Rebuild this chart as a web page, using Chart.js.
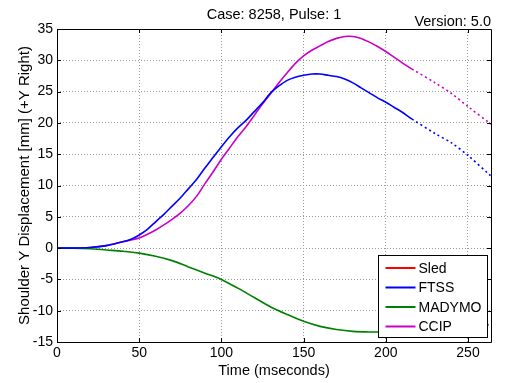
<!DOCTYPE html>
<html><head><meta charset="utf-8">
<script src="https://cdn.jsdelivr.net/npm/chart.js@4/dist/chart.umd.min.js"></script>
<style>html,body{margin:0;padding:0;background:#fff;overflow:hidden}</style>
</head><body>
<canvas id="c" width="505" height="383"></canvas>
<script>
const titleText = 'Case: 8258, Pulse: 1';
const versionText = 'Version: 5.0';
const xTitle = 'Time (mseconds)';
const yTitle = 'Shoulder Y Displacement [mm] (+Y Right)';
const xTicks = [0, 50, 100, 150, 200, 250];
const yTicks = [-15, -10, -5, 0, 5, 10, 15, 20, 25, 30, 35];
const seriesNames = ['Sled', 'FTSS', 'MADYMO', 'CCIP'];

const sledTime = [];
const sledValues = [];

const ftssTime = [0,10,20,30,40,45,50,55,60,65,70,75,80,85,90,95,100,105,110,115,120,125,130,135,140,145,150,155,160,165,170,175,180,185,190,195,200,205,210,216,230,240,250,264];
const ftssValues = [0,0,0.1,0.4,1.0,1.4,2.1,3.0,4.2,5.4,6.7,8.0,9.5,11.0,12.8,14.5,16.2,17.8,19.2,20.4,21.8,23.2,24.8,25.9,26.8,27.3,27.6,27.8,27.8,27.6,27.4,27.0,26.4,25.6,24.8,24.0,23.3,22.5,21.7,20.6,18.3,16.8,14.8,11.5];

const madymoTime = [0,10,20,30,40,50,60,70,80,90,100,110,120,130,140,150,160,170,180,190,200,216,240,264];
const madymoValues = [0,0,-0.1,-0.3,-0.5,-0.8,-1.3,-2.0,-3.0,-4.0,-5.0,-6.4,-7.9,-9.4,-10.6,-11.7,-12.5,-13.0,-13.3,-13.4,-13.4,-13.3,-12.9,-12.2];

const ccipTime = [0,10,20,30,40,45,50,55,60,65,70,75,80,85,90,95,100,105,110,115,120,125,130,135,140,145,150,155,160,165,170,175,180,185,190,195,200,205,210,216,230,240,250,264];
const ccipValues = [0,0,0.1,0.4,1.0,1.3,1.6,2.2,2.9,3.7,4.6,5.6,6.8,8.3,10.3,12.2,14.2,16.0,17.8,19.4,21.2,23.0,24.7,26.4,28.0,29.5,30.7,31.6,32.3,33.0,33.5,33.8,33.8,33.5,32.9,32.2,31.4,30.5,29.6,28.6,26.4,24.7,22.6,19.8];

const dottedFrom = 216;
const FONT = "'Liberation Sans', Arial, sans-serif";

function pts(t, v) { return t.map((x, i) => ({x: x, y: v[i]})); }
function ds(label, t, v, color) {
  return {
    label: label, data: pts(t, v), borderColor: color, backgroundColor: color,
    borderWidth: 1.6, pointRadius: 0, tension: 0.3, fill: false,
    segment: { borderDash: c => (c.p0.parsed.x >= dottedFrom ? [2, 3] : undefined) }
  };
}

const colors = ['#ff0000', '#0000ff', '#008000', '#c800c8'];

const framePlugin = {
  id: 'frame',
  afterDraw(chart) {
    const ctx = chart.ctx, a = chart.chartArea;
    const xs = chart.scales.x, ys = chart.scales.y;
    ctx.save();
    ctx.strokeStyle = '#000'; ctx.lineWidth = 1;
    ctx.beginPath();
    ctx.rect(Math.round(a.left) + 0.5, Math.round(a.top) + 0.5, Math.round(a.right - a.left), Math.round(a.bottom - a.top));
    ctx.stroke();
    const tl = 4;
    ctx.beginPath();
    xTicks.forEach(v => {
      const px = Math.round(xs.getPixelForValue(v)) + 0.5;
      ctx.moveTo(px, a.bottom); ctx.lineTo(px, a.bottom - tl);
      ctx.moveTo(px, a.top); ctx.lineTo(px, a.top + tl);
    });
    yTicks.forEach(v => {
      const py = Math.round(ys.getPixelForValue(v)) + 0.5;
      ctx.moveTo(a.left, py); ctx.lineTo(a.left + tl, py);
      ctx.moveTo(a.right, py); ctx.lineTo(a.right - tl, py);
    });
    ctx.stroke();

    // legend
    const lw = 109, lh = 82;
    const lx = Math.round(a.right - 4 - lw) + 0.5, ly = Math.round(a.bottom - 5 - lh) + 0.5;
    ctx.fillStyle = '#fff';
    ctx.fillRect(lx, ly, lw, lh);
    ctx.strokeStyle = '#000'; ctx.lineWidth = 1;
    ctx.strokeRect(lx, ly, lw, lh);
    ctx.font = '14px ' + FONT;
    ctx.textBaseline = 'middle'; ctx.textAlign = 'left';
    chart.data.datasets.forEach((d, i) => {
      const yy = ly + 12.5 + i * 19.5;
      ctx.strokeStyle = d.borderColor; ctx.lineWidth = 2;
      ctx.beginPath(); ctx.moveTo(lx + 7, yy); ctx.lineTo(lx + 37, yy); ctx.stroke();
      ctx.fillStyle = '#000';
      ctx.fillText(d.label, lx + 40, yy + 1);
    });

    // titles
    ctx.fillStyle = '#000';
    ctx.font = '14.5px ' + FONT;
    ctx.textAlign = 'center'; ctx.textBaseline = 'middle';
    ctx.fillText(titleText, (a.left + a.right) / 2, 15);
    ctx.textAlign = 'right';
    ctx.fillText(versionText, a.right, 22);
    ctx.restore();
  }
};

new Chart(document.getElementById('c'), {
  type: 'line',
  data: {
    datasets: [
      ds(seriesNames[0], sledTime, sledValues, colors[0]),
      ds(seriesNames[1], ftssTime, ftssValues, colors[1]),
      ds(seriesNames[2], madymoTime, madymoValues, colors[2]),
      ds(seriesNames[3], ccipTime, ccipValues, colors[3])
    ]
  },
  options: {
    responsive: false, animation: false, devicePixelRatio: 1,
    layout: { padding: { top: 29, right: 14, left: 0, bottom: 0 } },
    plugins: { legend: { display: false }, title: { display: false }, tooltip: { enabled: false } },
    scales: {
      x: {
        type: 'linear', min: 0, max: 264,
        afterBuildTicks: s => { s.ticks = xTicks.map(v => ({value: v})); },
        afterFit: s => { s.height = 41; },
        grid: { color: c => (c.tick && (c.tick.value === 0) ? 'rgba(0,0,0,0)' : '#9a9a9a'), lineWidth: 1, drawTicks: false },
        border: { display: false, dash: [1, 2] },
        ticks: { color: '#000', font: { family: FONT, size: 14 }, padding: 3, maxRotation: 0 },
        title: { display: true, text: xTitle, color: '#000', font: { family: FONT, size: 14.5 }, padding: { top: 0, bottom: 3 } }
      },
      y: {
        type: 'linear', min: -15, max: 35,
        afterBuildTicks: s => { s.ticks = yTicks.map(v => ({value: v})); },
        afterFit: s => { s.width = 57; },
        grid: { color: c => (c.tick && (c.tick.value === -15 || c.tick.value === 35) ? 'rgba(0,0,0,0)' : '#9a9a9a'), lineWidth: 1, drawTicks: false },
        border: { display: false, dash: [1, 2] },
        ticks: { color: '#000', font: { family: FONT, size: 14 }, padding: 4 },
        title: { display: true, text: yTitle, color: '#000', font: { family: FONT, size: 15 }, padding: { top: 16, bottom: 0 } }
      }
    }
  },
  plugins: [framePlugin]
});
</script>
</body></html>
